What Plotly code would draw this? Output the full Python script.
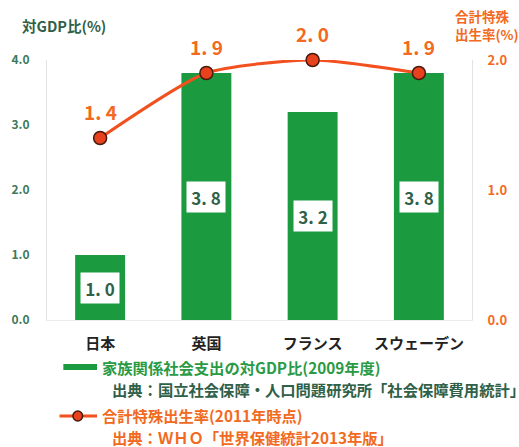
import plotly.graph_objects as go

# ---- data ----
countries = ["日本", "英国", "フランス", "スウェーデン"]
family_spending_gdp = [1.0, 3.8, 3.2, 3.8]      # 家族関係社会支出の対GDP比(2009年度)
fertility_rate = [1.4, 1.9, 2.0, 1.9]           # 合計特殊出生率(2011年時点)
left_ticks = [0.0, 1.0, 2.0, 3.0, 4.0]
right_ticks = [0.0, 1.0, 2.0]

legend_bar = "家族関係社会支出の対GDP比(2009年度)"
legend_bar_src = "出典：国立社会保障・人口問題研究所「社会保障費用統計」"
legend_line = "合計特殊出生率(2011年時点)"
legend_line_src = "出典：ＷＨＯ「世界保健統計2013年版」"
left_title = "対GDP比(%)"
right_title = "合計特殊<br>出生率(%)"

# ---- styles ----
W, H = 519, 447
ML, MR, MT, MB = 45, 32, 60, 127
GREEN = "#1b9a40"
GREEN_TXT = "#2a9a45"
DARK_GREEN = "#2f6048"
ORANGE = "#f26a21"
LINE_ORANGE = "#f2501f"
FONT = "Noto Sans CJK JP"

def px_x(p):
    return (p - ML) / (W - ML - MR)

def px_y(p):
    return (H - MB - p) / (H - MT - MB)

def fmt(v):
    return f"{v:.1f}".replace(".", ". ")

fig = go.Figure()
fig.add_trace(go.Bar(
    x=countries, y=family_spending_gdp, marker=dict(color=GREEN, line=dict(width=0)),
    name=legend_bar, showlegend=False, hoverinfo="skip",
))
fig.add_trace(go.Scatter(
    x=countries, y=fertility_rate, yaxis="y2", mode="lines+markers",
    line=dict(color=LINE_ORANGE, width=3, shape="spline", smoothing=0.6),
    marker=dict(size=13, color="#e8421d", line=dict(color="#4a1a10", width=1.5)),
    cliponaxis=False, name=legend_line, showlegend=False, hoverinfo="skip",
))

annotations = []
# bar value labels in white boxes
for c, v in zip(countries, family_spending_gdp):
    annotations.append(dict(
        x=c, y=v / 2, xref="x", yref="y", text=fmt(v), showarrow=False,
        bgcolor="white", width=36, height=28,
        font=dict(family="Liberation Sans Narrow, " + FONT, size=17, color=DARK_GREEN, weight="bold"),
    ))
# line value labels
for c, v in zip(countries, fertility_rate):
    annotations.append(dict(
        x=c, y=v, xref="x", yref="y2", text=fmt(v), showarrow=False, yshift=27,
        font=dict(family="Liberation Sans Narrow, " + FONT, size=19, color=ORANGE, weight="bold"),
    ))
# axis titles
annotations.append(dict(
    x=px_x(17), y=px_y(25), xref="paper", yref="paper", xanchor="left", yanchor="middle",
    text=left_title, showarrow=False,
    font=dict(family=FONT, size=14.5, color=DARK_GREEN, weight="bold"),
))
annotations.append(dict(
    x=px_x(467), y=px_y(25), xref="paper", yref="paper", xanchor="left", yanchor="middle",
    text=right_title, showarrow=False, align="left",
    font=dict(family=FONT, size=13.5, color=ORANGE, weight="bold"),
))
# legend texts
for txt, xx, yy, col in [
    (legend_bar, 100, 367, GREEN_TXT),
    (legend_bar_src, 110, 389, DARK_GREEN),
    (legend_line, 100, 415, ORANGE),
    (legend_line_src, 110, 437, ORANGE),
]:
    annotations.append(dict(
        x=px_x(xx), y=px_y(yy), xref="paper", yref="paper", xanchor="left", yanchor="middle",
        text=txt, showarrow=False,
        font=dict(family=FONT, size=15.3, color=col, weight="bold"),
    ))

shapes = [
    dict(type="rect", xref="paper", yref="paper", x0=px_x(62), x1=px_x(97),
         y0=px_y(370), y1=px_y(364), fillcolor=GREEN, line=dict(width=0)),
    dict(type="line", xref="paper", yref="paper", x0=px_x(58), x1=px_x(97),
         y0=px_y(416), y1=px_y(416), line=dict(color=LINE_ORANGE, width=3)),
    dict(type="circle", xref="paper", yref="paper", x0=px_x(72), x1=px_x(82),
         y0=px_y(421), y1=px_y(411), fillcolor="#e8421d", line=dict(color="#4a1a10", width=1.5)),
]

fig.update_layout(
    width=W, height=H, margin=dict(l=ML, r=MR, t=MT, b=MB),
    paper_bgcolor="white", plot_bgcolor="white",
    bargap=0.53, showlegend=False,
    font=dict(family=FONT),
    xaxis=dict(
        showgrid=False, showline=True, linecolor="#ececec", linewidth=1, ticks="",
        tickfont=dict(family=FONT, size=15, color="#222222", weight="bold"),
        ticklabelstandoff=10, fixedrange=True,
    ),
    yaxis=dict(
        range=[0, 4], tickvals=left_ticks, tickformat=".1f", showgrid=False, zeroline=False,
        showline=True, linecolor="#e3e3e3", linewidth=1, ticks="",
        tickfont=dict(family=FONT, size=12, color="#3d7a5a", weight="bold"),
        ticklabelstandoff=14,
    ),
    yaxis2=dict(
        range=[0, 2], tickvals=right_ticks, tickformat=".1f", overlaying="y", side="right",
        showgrid=False, zeroline=False, showline=True, linecolor="#e3e3e3", linewidth=1, ticks="",
        tickfont=dict(family=FONT, size=13, color=ORANGE, weight="bold"),
        ticklabelstandoff=12,
    ),
    annotations=annotations, shapes=shapes,
)

fig.write_html(
    "out.html",
    config={"displayModeBar": False},
    post_script="document.body.style.margin='0';document.body.style.padding='0';document.body.style.overflow='hidden';",
)
